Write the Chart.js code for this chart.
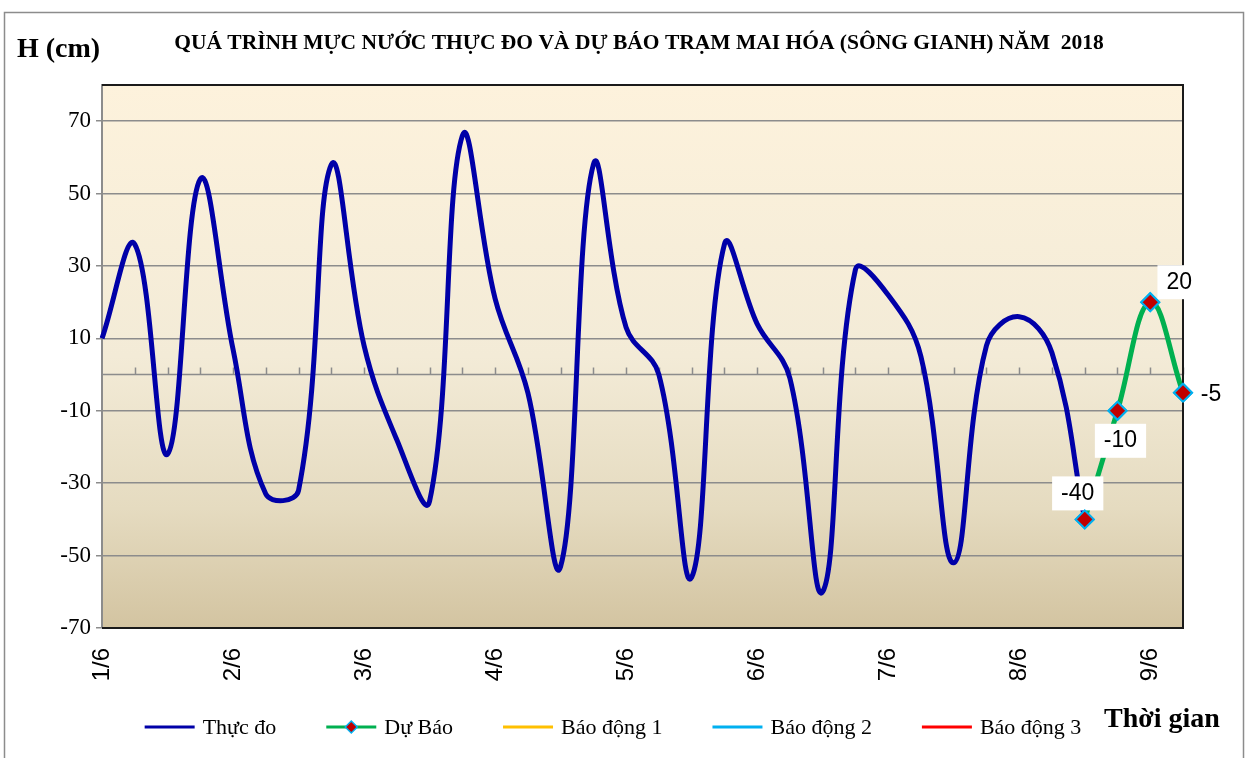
<!DOCTYPE html>
<html>
<head>
<meta charset="utf-8">
<script src="https://cdn.jsdelivr.net/npm/chart.js@4.4.1/dist/chart.umd.min.js"></script>
<style>
html,body{margin:0;padding:0;background:#fff;}
</style>
</head>
<body>
<canvas id="myChart" width="1253" height="758"></canvas>
<script>
// so lieu muc nuoc (cm), 4 lan / ngay
var ngay = ['1/6','2/6','3/6','4/6','5/6','6/6','7/6','8/6','9/6']
var thuc_do = [10,36,-22,54,7,-33,-32,58,8,-18,-35,66,21,-5,-53,58,13,0,-56,36,14,-1,-60,29,22,5,-52,8,16,6,-40]
var du_bao = [-40,-10,20,-5]
var bao_dong_1 = []
var bao_dong_2 = []
var bao_dong_3 = []
var y_ticks = [-70,-50,-30,-10,10,30,50,70]

var so_diem = thuc_do.length + du_bao.length - 1
var labels = []
for (var i = 0; i < so_diem; i++) {
  labels.push(i % 4 == 0 ? ngay[i / 4] : '')
}
var du_bao_full = []
for (var i = 0; i < thuc_do.length - 1; i++) du_bao_full.push(null)
du_bao_full = du_bao_full.concat(du_bao)

var serif = "'Liberation Serif', 'Times New Roman', serif"
var sans = "'Liberation Sans', Arial, sans-serif"

// label offsets for the forecast points (px)
var nhan_lech = [[-7,-26,true],[3,30,true],[29,-20,true],[28,2,false]]

var khung = {
  id: 'khung',
  beforeDraw: function(chart){
    var ctx = chart.ctx, a = chart.chartArea
    ctx.save()
    ctx.fillStyle = '#fff'
    ctx.fillRect(0, 0, chart.width, chart.height)
    ctx.strokeStyle = '#8c8c8c'
    ctx.lineWidth = 1.5
    ctx.strokeRect(4.5, 12.5, 1239, 800)
    var g = ctx.createLinearGradient(0, a.top, 0, a.bottom)
    g.addColorStop(0, '#FDF2DC')
    g.addColorStop(0.5, '#F3EBD7')
    g.addColorStop(0.78, '#E5DBC0')
    g.addColorStop(1, '#D3C4A1')
    ctx.fillStyle = g
    ctx.fillRect(a.left, a.top, a.right - a.left, a.bottom - a.top)
    ctx.restore()
  },
  beforeDatasetsDraw: function(chart){
    var ctx = chart.ctx, a = chart.chartArea
    var x = chart.scales.x, y0 = chart.scales.y.getPixelForValue(0)
    ctx.save()
    ctx.strokeStyle = '#8c8c8c'
    ctx.lineWidth = 1.5
    ctx.beginPath()
    ctx.moveTo(a.left, y0)
    ctx.lineTo(a.right, y0)
    for (var i = 1; i < labels.length; i++) {
      var px = Math.round(x.getPixelForValue(i)) + 0.5
      ctx.moveTo(px, y0)
      ctx.lineTo(px, y0 - 7)
    }
    ctx.stroke()
    ctx.restore()
  },
  afterDatasetsDraw: function(chart){
    var ctx = chart.ctx, a = chart.chartArea
    ctx.save()
    ctx.strokeStyle = '#1a1a1a'
    ctx.lineWidth = 2
    ctx.beginPath()
    ctx.moveTo(a.left, a.top)
    ctx.lineTo(a.right, a.top)
    ctx.lineTo(a.right, a.bottom)
    ctx.lineTo(a.left, a.bottom)
    ctx.stroke()

    // nhan so lieu du bao
    var meta = chart.getDatasetMeta(1)
    ctx.font = '23px ' + sans
    ctx.textAlign = 'center'
    ctx.textBaseline = 'middle'
    for (var k = 0; k < du_bao.length; k++) {
      var p = meta.data[thuc_do.length - 1 + k]
      var tx = p.x + nhan_lech[k][0], ty = p.y + nhan_lech[k][1]
      var t = String(du_bao[k])
      var w = ctx.measureText(t).width
      if (nhan_lech[k][2]) {
        ctx.fillStyle = '#fff'
        ctx.fillRect(tx - w / 2 - 9, ty - 17, w + 18, 34)
      }
      ctx.fillStyle = '#000'
      ctx.fillText(t, tx, ty)
    }
    // ve lai diem du bao de nam tren nhan
    meta.data.forEach(function(el){ if (!el.skip) el.draw(ctx, a) })
    ctx.restore()
  },
  afterDraw: function(chart){
    var ctx = chart.ctx
    ctx.save()
    ctx.fillStyle = '#000'
    ctx.textBaseline = 'alphabetic'
    ctx.font = 'bold 21.5px ' + serif
    ctx.textAlign = 'center'
    ctx.fillText('QUÁ TRÌNH MỰC NƯỚC THỰC ĐO VÀ DỰ BÁO TRẠM MAI HÓA (SÔNG GIANH) NĂM  2018', 639, 49)
    ctx.textAlign = 'left'
    ctx.font = 'bold 28px ' + serif
    ctx.fillText('H (cm)', 17, 57)
    ctx.fillText('Thời gian', 1104, 727)

    // chu giai
    ctx.font = '22px ' + serif
    var items = chart.data.datasets
    var tong = 0
    items.forEach(function(d){ tong += 50 + 8 + ctx.measureText(d.label).width })
    tong += 50 * (items.length - 1)
    var cx = 613 - tong / 2, cy = 727
    ctx.textBaseline = 'middle'
    items.forEach(function(d){
      ctx.strokeStyle = d.borderColor
      ctx.lineWidth = 3
      ctx.beginPath()
      ctx.moveTo(cx, cy)
      ctx.lineTo(cx + 50, cy)
      ctx.stroke()
      if (d.pointRadius > 0) {
        ctx.fillStyle = d.pointBackgroundColor
        ctx.strokeStyle = d.pointBorderColor
        ctx.lineWidth = 1.5
        ctx.beginPath()
        ctx.moveTo(cx + 25, cy - 6)
        ctx.lineTo(cx + 31, cy)
        ctx.lineTo(cx + 25, cy + 6)
        ctx.lineTo(cx + 19, cy)
        ctx.closePath()
        ctx.fill()
        ctx.stroke()
      }
      ctx.fillStyle = '#000'
      ctx.fillText(d.label, cx + 58, cy + 1)
      cx += 58 + ctx.measureText(d.label).width + 50
    })
    ctx.restore()
  }
}

var ctx = document.getElementById('myChart').getContext('2d')
var myChart = new Chart(ctx, {
  type: 'line',
  data: {
    labels: labels,
    datasets: [
      {
        label: 'Thực đo',
        data: thuc_do,
        borderColor: '#0000A8',
        borderWidth: 5,
        pointRadius: 0,
        tension: 0.4,
        order: 2
      },
      {
        label: 'Dự Báo',
        data: du_bao_full,
        borderColor: '#00B050',
        borderWidth: 5,
        pointStyle: 'rectRot',
        pointRadius: 9,
        pointBackgroundColor: '#C00000',
        pointBorderColor: '#00B0F0',
        pointBorderWidth: 2,
        tension: 0.4,
        clip: false,
        order: 1
      },
      { label: 'Báo động 1', data: bao_dong_1, borderColor: '#FFC000', borderWidth: 3, pointRadius: 0, order: 3 },
      { label: 'Báo động 2', data: bao_dong_2, borderColor: '#00B0F0', borderWidth: 3, pointRadius: 0, order: 4 },
      { label: 'Báo động 3', data: bao_dong_3, borderColor: '#FF0000', borderWidth: 3, pointRadius: 0, order: 5 }
    ]
  },
  options: {
    responsive: false,
    animation: false,
    layout: { padding: { top: 85, right: 70, bottom: 52, left: 0 } },
    plugins: {
      legend: { display: false },
      title: { display: false },
      tooltip: { enabled: false }
    },
    scales: {
      x: {
        grid: { display: false, drawTicks: false },
        border: { display: false },
        ticks: {
          autoSkip: false,
          minRotation: 90,
          maxRotation: 90,
          padding: 20,
          color: '#000',
          font: { family: sans, size: 24 }
        },
        afterFit: function(s){ s.height = 78 }
      },
      y: {
        min: -70,
        max: 80,
        afterBuildTicks: function(s){ s.ticks = y_ticks.map(function(v){ return { value: v } }) },
        grid: { color: '#8c8c8c', lineWidth: 1.5, tickLength: 6 },
        border: { color: '#8c8c8c', width: 2 },
        ticks: { color: '#000', padding: 5, font: { family: serif, size: 23 } },
        afterFit: function(s){ s.width = 102 }
      }
    }
  },
  plugins: [khung]
})
</script>
</body>
</html>
